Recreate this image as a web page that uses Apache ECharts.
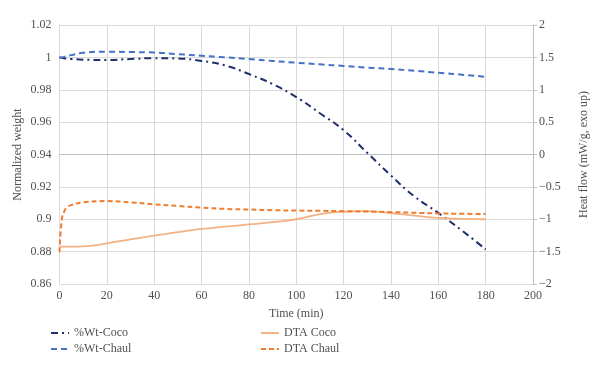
<!DOCTYPE html>
<html>
<head>
<meta charset="utf-8">
<script src="https://cdn.jsdelivr.net/npm/echarts@6/dist/echarts.min.js"></script>
<style>
html,body{margin:0;padding:0;background:#fff;}
#c{width:600px;height:372px;}
</style>
</head>
<body>
<div id="c"></div>
<script>
const time = [0, 1, 2, 3, 5, 10, 20, 30, 40, 50, 60, 70, 80, 90, 100, 110, 120, 130, 140, 150, 160, 170, 180];
const wtCoco = [1.0, 0.9998, 0.9995, 0.9993, 0.999, 0.9986, 0.9984, 0.999, 0.9995, 0.9993, 0.9978, 0.995, 0.9897, 0.9835, 0.9755, 0.9655, 0.955, 0.941, 0.927, 0.914, 0.9039, 0.893, 0.8814];
const wtChaul = [1.0, 1.0, 1.0003, 1.0007, 1.0014, 1.0028, 1.0035, 1.0033, 1.003, 1.002, 1.001, 1.0, 0.999, 0.9978, 0.9967, 0.9957, 0.9947, 0.9937, 0.9928, 0.9917, 0.9905, 0.9893, 0.988];
const dtaCoco = [-1.424, -1.424, -1.424, -1.424, -1.424, -1.42, -1.372, -1.31, -1.254, -1.2, -1.15, -1.115, -1.08, -1.045, -1.0, -0.92, -0.884, -0.875, -0.905, -0.945, -0.98, -0.995, -1.0];
const dtaChaul = [-1.51, -1.0, -0.88, -0.82, -0.78, -0.74, -0.72, -0.74, -0.77, -0.795, -0.82, -0.84, -0.85, -0.86, -0.866, -0.87, -0.875, -0.882, -0.89, -0.9, -0.91, -0.915, -0.92];
const xTicks = {min: 0, max: 200, interval: 20};
const leftTicks = {min: 0.86, max: 1.02, interval: 0.02};
const rightTicks = {min: -2, max: 2, interval: 0.5};

const pairs = (ys) => time.map((t, i) => [t, ys[i]]);
const FONT = 'Liberation Serif';
const txt = {fontFamily: FONT, fontSize: 12, color: '#505050'};

const legendBase = {
  orient: 'vertical', top: 327, padding: 0,
  itemWidth: 18, itemHeight: 8, itemGap: 4, textStyle: txt,
  itemStyle: {opacity: 0}
};

const chart = echarts.init(document.getElementById('c'), null, {renderer: 'canvas'});
chart.setOption({
  backgroundColor: '#fff',
  animation: false,
  textStyle: {fontFamily: FONT},
  grid: {left: 59.5, right: 67, top: 25, bottom: 88},
  legend: [
    Object.assign({data: ['%Wt-Coco', '%Wt-Chaul'], left: 50}, legendBase),
    Object.assign({data: ['DTA Coco', 'DTA Chaul'], left: 260}, legendBase)
  ],
  xAxis: {
    type: 'value', min: xTicks.min, max: xTicks.max, interval: xTicks.interval,
    name: 'Time (min)', nameLocation: 'middle', nameGap: 24, nameTextStyle: txt,
    axisLine: {lineStyle: {color: '#bfbfbf'}},
    axisTick: {show: false},
    axisLabel: Object.assign({margin: 6}, txt),
    splitLine: {show: true, lineStyle: {color: '#d9d9d9'}}
  },
  yAxis: [
    {
      type: 'value', min: leftTicks.min, max: leftTicks.max, interval: leftTicks.interval,
      name: 'Normalized weight', nameLocation: 'middle', nameGap: 36, nameRotate: 90, nameTextStyle: txt,
      nameMoveOverlap: false,
      axisLine: {show: true, lineStyle: {color: '#d9d9d9'}},
      axisTick: {show: false},
      axisLabel: Object.assign({margin: 8, formatter: v => String(+v.toFixed(2))}, txt),
      splitLine: {show: true, lineStyle: {color: '#d9d9d9'}}
    },
    {
      type: 'value', min: rightTicks.min, max: rightTicks.max, interval: rightTicks.interval,
      position: 'right',
      name: 'Heat flow (mW/g, exo up)', nameLocation: 'middle', nameGap: 45, nameRotate: 90, nameTextStyle: txt,
      axisLine: {show: true, lineStyle: {color: '#bfbfbf'}},
      axisTick: {show: true, length: 4, lineStyle: {color: '#bfbfbf'}},
      axisLabel: Object.assign({margin: 6, formatter: v => String(v).replace('-', '\u2212')}, txt),
      splitLine: {show: false}
    }
  ],
  series: [
    {
      name: '%Wt-Coco', type: 'line', yAxisIndex: 0, smooth: true, symbol: 'none',
      data: pairs(wtCoco), color: '#1f2f6b',
      lineStyle: {color: '#1f2f6b', width: 2, type: [7, 4, 2, 4]}
    },
    {
      name: '%Wt-Chaul', type: 'line', yAxisIndex: 0, smooth: true, symbol: 'none',
      data: pairs(wtChaul), color: '#4472c4',
      lineStyle: {color: '#4472c4', width: 2, type: [6, 4]}
    },
    {
      name: 'DTA Coco', type: 'line', yAxisIndex: 1, smooth: true, symbol: 'none',
      data: pairs(dtaCoco), color: '#f4b183',
      lineStyle: {color: '#f4b183', width: 1.8}
    },
    {
      name: 'DTA Chaul', type: 'line', yAxisIndex: 1, smooth: true, symbol: 'none',
      data: pairs(dtaChaul), color: '#ed7d31',
      lineStyle: {color: '#ed7d31', width: 2, type: [5, 3]}
    }
  ]
});
</script>
</body>
</html>
